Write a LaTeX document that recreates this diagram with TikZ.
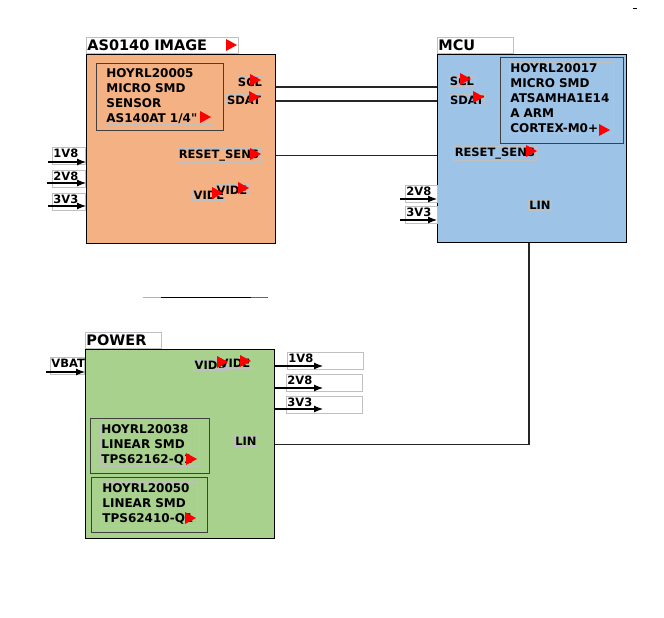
\documentclass[tikz,border=0pt]{standalone}
\usepackage{fontspec}
\setmainfont{DejaVu Sans}
\usetikzlibrary{positioning, arrows.meta}

\definecolor{imagefill}{HTML}{F4B183}
\definecolor{mcufill}{HTML}{9DC3E6}
\definecolor{powerfill}{HTML}{A9D18E}
\definecolor{partline}{HTML}{404040}
\definecolor{boxline}{HTML}{C0C0C0}

\tikzset{
  block/.style={draw=black, line width=1.2pt, anchor=north west, inner sep=0pt,
                minimum width=189pt, minimum height=189pt},
  title/.style={draw=boxline, line width=0.8pt, anchor=south west, inner xsep=1pt,
                inner ysep=0pt, minimum height=16pt, align=left,
                font=\bfseries\fontsize{14.5}{15}\selectfont},
  part/.style={draw=partline, line width=1.2pt, anchor=north west, inner sep=0pt},
  parttext/.style={draw=boxline, line width=0.8pt, anchor=north west, inner sep=1pt,
                   align=left, font=\bfseries\fontsize{12}{15}\selectfont},
  port/.style={draw=boxline, line width=0.8pt, inner sep=1pt,
               font=\bfseries\fontsize{11.5}{12}\selectfont},
  supply/.style={draw=boxline, line width=0.8pt, anchor=north west, inner xsep=1pt,
                 inner ysep=1pt, text height=9pt, text depth=6pt, align=left,
                 font=\bfseries\fontsize{11.5}{12}\selectfont},
  wire/.style={line width=1.1pt, draw=black!85},
  feed/.style={line width=1.1pt, -{Latex[length=9pt,width=7pt]}},
}
\newcommand{\redmark}[1]{\fill[red] (#1) ++(-5,-6) -- ++(11,6) -- ++(-11,6) -- cycle;}

\begin{document}
\begin{tikzpicture}[x=1pt, y=-1pt]
    \useasboundingbox (0,0) rectangle (664,618);

    % image sensor block
    \node[block, fill=imagefill] (img) at (86,54) {};
    \node[title, text width=150pt] (imgtitle) at (img.north west) {AS0140 IMAGE};
    \node[part, minimum width=127pt, minimum height=67pt] (imgpart) at (96,63) {};
    \node[parttext, text width=106pt] (imgparttext) at (105,67)
        {HOYRL20005\\MICRO SMD\\SENSOR\\AS140AT 1/4\textquotedbl};
    \node[port] (imgscl) at (250,82) {SCL};
    \node[port] (imgsdat) at (244,100) {SDAT};
    \node[port] (imgreset) at (219,155.5) {RESET\_SENS};
    \node[port] (imgvidea) at (209,195) {VIDE};
    \node[port] (imgvideb) at (232,190) {VIDE};
    \node[supply, text width=31pt] (imgin18) at (52,147) {1V8};
    \node[supply, text width=31pt] (imgin28) at (52,170) {2V8};
    \node[supply, text width=31pt] (imgin33) at (52,193) {3V3};
    \coordinate (in18) at (48,162);
    \coordinate (in28) at (47,183);
    \coordinate (in33) at (48,206);
    \draw[feed] (in18) -- (in18 -| img.west);
    \draw[feed] (in28) -- (in28 -| img.west);
    \draw[feed] (in33) -- (in33 -| img.west);

    % microcontroller block
    \node[block, fill=mcufill, minimum height=188pt] (mcu) at (437,54) {};
    \node[title, text width=74pt] (mcutitle) at (mcu.north west) {MCU};
    \node[part, minimum width=123pt, minimum height=86pt] (mcupart) at (500,57) {};
    \node[parttext, text width=102pt] (mcuparttext) at (509,62)
        {HOYRL20017\\MICRO SMD\\ATSAMHA1E14\\A ARM\\CORTEX-M0+};
    \node[port] (mcuscl) at (462,81.5) {SCL};
    \node[port] (mcusdat) at (467,100) {SDAT};
    \node[port] (mcureset) at (495,153.5) {RESET\_SENS};
    \node[port] (mculin) at (540,205.5) {LIN};
    \node[supply, text width=30pt] (mcuin28) at (405,185) {2V8};
    \node[supply, text width=30pt] (mcuin33) at (405,206) {3V3};
    \coordinate (min28) at (400,199);
    \coordinate (min33) at (400,220);
    \draw[feed] (min28) -- (min28 -| mcu.west);
    \draw[feed] (min33) -- (min33 -| mcu.west);

    % power block
    \node[block, fill=powerfill] (pwr) at (85,349) {};
    \node[title, text width=74pt] (pwrtitle) at (pwr.north west) {POWER};
    \node[port] (pwrvidea) at (210,365.5) {VIDE};
    \node[port] (pwrvideb) at (235,363) {VIDE};
    \node[port] (pwrlin) at (246,441.5) {LIN};
    \node[part, minimum width=119pt, minimum height=55pt] (pwrparta) at (90,418) {};
    \node[parttext, text width=97pt] (pwrpartatext) at (100,423)
        {HOYRL20038\\LINEAR SMD\\TPS62162-Q1};
    \node[part, minimum width=116pt, minimum height=55pt] (pwrpartb) at (91,477) {};
    \node[parttext, text width=94pt] (pwrpartbtext) at (101,482)
        {HOYRL20050\\LINEAR SMD\\TPS62410-Q1};
    \node[supply, text width=32pt] (pwrvbat) at (50,357) {VBAT};
    \node[supply, text width=74pt] (pwrout18) at (287,352) {1V8};
    \node[supply, text width=74pt] (pwrout28) at (286,374) {2V8};
    \node[supply, text width=74pt] (pwrout33) at (286,396) {3V3};
    \coordinate (vbat) at (46,372);
    \coordinate (out18) at (323,366);
    \coordinate (out28) at (323,388);
    \coordinate (out33) at (323,409);
    \draw[feed] (vbat) -- (vbat -| pwr.west);
    \draw[feed] (pwr.east |- out18) -- (out18);
    \draw[feed] (pwr.east |- out28) -- (out28);
    \draw[feed] (pwr.east |- out33) -- (out33);

    % connections
    \draw[wire] (img.east |- 0,87) -- (mcu.west |- 0,87);
    \draw[wire] (img.east |- 0,101) -- (mcu.west |- 0,101);
    \draw[wire] (img.east |- imgreset) -- (mcu.west |- imgreset);
    \coordinate (linbend) at (529,444.5);
    \draw[wire] (pwr.east |- linbend) -- (linbend) -- (linbend |- mcu.south);
    \draw[line width=1pt, draw=black!30] (143,297) -- (161,297);
    \draw[line width=1pt] (161,297) -- (251,297);
    \draw[line width=1pt, draw=black!60] (251,297) -- (268,297);
    \draw[line width=1pt] (633,9) -- (637,9);

    % red markers
    \redmark{231,45}
    \redmark{205,117}
    \redmark{255,80}
    \redmark{254,97}
    \redmark{255,154}
    \redmark{217,193}
    \redmark{243,188}
    \redmark{604,130}
    \redmark{465,79}
    \redmark{478,97}
    \redmark{531,151}
    \redmark{222,362}
    \redmark{245,361}
    \redmark{191,459}
    \redmark{190,518}
\end{tikzpicture}
\end{document}
